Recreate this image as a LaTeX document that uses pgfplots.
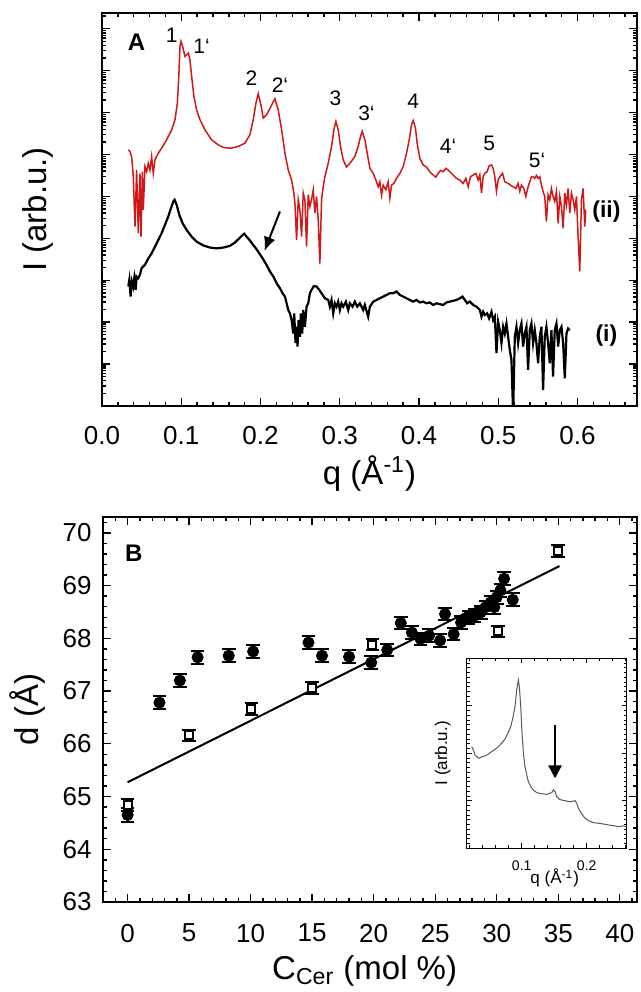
\documentclass[border=0pt]{standalone}
\usepackage{fontspec}
\setmainfont{Liberation Sans}
\usepackage{pgfplots}
\pgfplotsset{compat=1.18}
\usetikzlibrary{arrows.meta}
\definecolor{spred}{RGB}{208,24,24}

% minor ticks of a log axis, drawn on a linear axis in decades
\xdef\logminors{0}
\foreach \n in {0,...,9}{%
  \foreach \m in {0.30103,0.47712,0.60206,0.69897,0.77815,0.84510,0.90309,0.95424}{%
    \pgfmathsetmacro\v{\n+\m}%
    \xdef\logminors{\logminors,\v}}}

\pgfplotsset{
  panel/.style={
    scale only axis, anchor=south west,
    axis line style={line width=0.9pt},
    every tick/.style={black, line width=0.7pt},
    major tick length=4pt, minor tick length=2.2pt,
    /pgf/number format/assume math mode=true,
    tick label style={font=\fontsize{13}{15}\selectfont},
    label style={font=\fontsize{16.5}{19}\selectfont},
  },
}

\begin{document}
\begin{tikzpicture}
\useasboundingbox (0,0) rectangle (320.5pt,496pt);

% ---------------- panel A ----------------
\begin{axis}[panel,
  at={(51pt,293pt)}, width=267.5pt, height=196.5pt,
  xmin=0, xmax=0.675, ymin=0, ymax=9.376,
  xtick={0,0.1,0.2,0.3,0.4,0.5,0.6},
  minor xtick={0.02,0.04,...,0.66},
  ytick={0,...,9}, yticklabels={},
  minor ytick/.expanded={\logminors},
  x tick label style={/pgf/number format/fixed, /pgf/number format/fixed zerofill,
    /pgf/number format/precision=1, yshift=-6.5pt},
  xlabel={q (Å\textsuperscript{-1})},
  ylabel={I (arb.u.)},
  xlabel style={at={(axis description cs:0.5,0)}, anchor=base, yshift=-39.5pt},
  ylabel style={at={(axis description cs:-0.119,0.5)}, anchor=center},
]
% (ii) red
\addplot[spred, line width=0.75pt] table[x=q, y=L] {
q L
0.0332 6.11
0.0353 6.07
0.0374 5.95
0.0395 5.47
0.0416 4.28
0.0437 5.63
0.0458 4.12
0.0479 5.55
0.0492 4.04
0.0509 5.59
0.0521 4.68
0.0542 5.71
0.0563 5.59
0.0584 5.79
0.0605 5.63
0.0626 5.95
0.0647 5.55
0.0668 5.87
0.0710 6.03
0.0752 6.15
0.0815 6.35
0.0879 6.59
0.0921 6.83
0.0950 7.22
0.0967 7.78
0.0984 8.58
0.0996 8.70
0.1017 8.58
0.1047 8.34
0.1068 8.38
0.1089 8.42
0.1110 8.26
0.1131 7.86
0.1160 7.38
0.1194 7.06
0.1236 6.83
0.1299 6.59
0.1383 6.35
0.1467 6.23
0.1530 6.17
0.1614 6.15
0.1677 6.17
0.1740 6.21
0.1803 6.27
0.1866 6.47
0.1908 6.83
0.1942 7.22
0.1971 7.45
0.2001 7.22
0.2034 6.87
0.2077 6.95
0.2119 7.10
0.2161 7.26
0.2182 7.33
0.2224 7.06
0.2266 6.59
0.2308 6.03
0.2350 5.63
0.2392 5.39
0.2421 5.08
0.2434 4.84
0.2455 3.96
0.2476 4.92
0.2497 4.68
0.2518 4.04
0.2539 5.08
0.2560 4.92
0.2581 3.80
0.2602 5.04
0.2623 4.76
0.2644 4.92
0.2665 5.16
0.2686 4.60
0.2707 5.00
0.2728 4.44
0.2749 3.40
0.2770 4.92
0.2791 5.23
0.2812 5.47
0.2854 5.79
0.2896 6.19
0.2926 6.59
0.2951 6.79
0.2980 6.59
0.3010 6.19
0.3043 5.87
0.3085 5.70
0.3127 5.79
0.3190 5.95
0.3232 6.19
0.3262 6.43
0.3283 6.55
0.3317 6.35
0.3346 6.03
0.3380 5.67
0.3422 5.55
0.3455 5.39
0.3485 5.23
0.3506 5.35
0.3527 5.03
0.3548 5.27
0.3581 5.16
0.3611 5.35
0.3632 4.96
0.3653 5.27
0.3682 5.31
0.3716 5.43
0.3758 5.55
0.3800 5.71
0.3842 6.03
0.3876 6.35
0.3905 6.71
0.3926 6.81
0.3955 6.63
0.3976 6.27
0.4010 5.91
0.4052 5.75
0.4094 5.70
0.4136 5.59
0.4178 5.51
0.4212 5.46
0.4241 5.55
0.4271 5.62
0.4304 5.59
0.4338 5.67
0.4367 5.63
0.4388 5.59
0.4430 5.51
0.4473 5.43
0.4515 5.39
0.4557 5.31
0.4590 5.43
0.4620 5.23
0.4649 5.47
0.4683 5.51
0.4716 5.55
0.4746 5.39
0.4767 5.51
0.4788 5.08
0.4809 5.47
0.4830 5.55
0.4859 5.59
0.4884 5.73
0.4914 5.75
0.4935 5.67
0.4956 5.47
0.4977 5.12
0.4998 5.39
0.5019 5.47
0.5053 5.55
0.5082 5.35
0.5124 5.31
0.5153 5.27
0.5187 5.23
0.5221 5.19
0.5250 5.31
0.5271 5.12
0.5292 5.27
0.5322 5.19
0.5347 5.00
0.5376 5.23
0.5397 5.35
0.5418 5.47
0.5439 5.47
0.5460 5.43
0.5481 5.50
0.5502 5.43
0.5523 5.47
0.5544 5.27
0.5565 5.12
0.5586 5.00
0.5607 4.40
0.5628 5.04
0.5649 4.92
0.5670 5.19
0.5691 5.00
0.5712 4.88
0.5734 5.12
0.5755 4.36
0.5776 5.00
0.5797 4.76
0.5818 4.24
0.5839 5.08
0.5860 4.80
0.5881 5.19
0.5902 4.60
0.5923 5.08
0.5944 4.92
0.5965 4.68
0.5986 5.00
0.6007 4.04
0.6028 3.21
0.6049 4.92
0.6070 5.19
0.6091 4.28
0.6103 4.68
};
% (i) black
\addplot[black, line width=1.1pt] table[x=q, y=L] {
q L
0.0332 2.85
0.0345 3.01
0.0361 2.61
0.0378 2.97
0.0395 2.85
0.0408 3.05
0.0425 2.77
0.0437 3.09
0.0458 3.05
0.0479 3.13
0.0500 3.29
0.0542 3.37
0.0584 3.52
0.0626 3.64
0.0668 3.80
0.0710 3.96
0.0752 4.12
0.0794 4.32
0.0836 4.52
0.0870 4.72
0.0900 4.88
0.0916 4.92
0.0942 4.80
0.0975 4.56
0.1017 4.36
0.1068 4.20
0.1131 4.04
0.1194 3.92
0.1278 3.83
0.1362 3.78
0.1446 3.76
0.1530 3.78
0.1614 3.82
0.1677 3.90
0.1732 4.00
0.1774 4.08
0.1795 4.11
0.1824 4.04
0.1866 3.95
0.1908 3.84
0.1950 3.74
0.1992 3.62
0.2034 3.50
0.2077 3.36
0.2119 3.21
0.2161 3.09
0.2203 2.93
0.2245 2.81
0.2278 2.69
0.2308 2.61
0.2329 2.45
0.2350 2.29
0.2371 2.21
0.2392 2.05
0.2413 1.73
0.2425 2.21
0.2442 1.50
0.2455 1.89
0.2467 1.42
0.2480 2.05
0.2497 1.65
0.2509 2.21
0.2526 1.73
0.2539 2.29
0.2560 1.89
0.2581 2.37
0.2602 2.45
0.2623 2.69
0.2644 2.77
0.2673 2.86
0.2707 2.85
0.2741 2.77
0.2770 2.69
0.2812 2.57
0.2854 2.53
0.2875 2.37
0.2896 2.53
0.2917 2.21
0.2938 2.45
0.2959 2.37
0.2980 2.49
0.3001 2.29
0.3022 2.45
0.3043 2.37
0.3077 2.49
0.3106 2.29
0.3127 2.45
0.3161 2.37
0.3190 2.49
0.3220 2.37
0.3253 2.45
0.3295 2.29
0.3316 2.41
0.3358 2.13
0.3380 2.37
0.3422 2.49
0.3464 2.53
0.3506 2.57
0.3548 2.61
0.3590 2.65
0.3632 2.69
0.3674 2.69
0.3716 2.73
0.3758 2.65
0.3800 2.61
0.3842 2.57
0.3884 2.53
0.3926 2.49
0.3968 2.53
0.4010 2.47
0.4052 2.49
0.4094 2.45
0.4136 2.47
0.4178 2.41
0.4220 2.45
0.4262 2.43
0.4304 2.41
0.4346 2.47
0.4388 2.49
0.4430 2.51
0.4473 2.53
0.4515 2.57
0.4548 2.61
0.4578 2.53
0.4607 2.45
0.4641 2.49
0.4683 2.41
0.4725 2.37
0.4767 2.29
0.4788 2.13
0.4809 2.25
0.4830 2.17
0.4859 2.21
0.4884 2.09
0.4914 2.25
0.4935 2.05
0.4956 2.13
0.4977 1.26
0.4998 2.01
0.5019 1.81
0.5040 1.50
0.5061 1.89
0.5082 1.73
0.5103 1.97
0.5124 1.65
0.5145 1.34
0.5166 1.10
0.5187 -0.20
0.5208 1.65
0.5229 1.89
0.5250 1.50
0.5271 1.81
0.5292 1.97
0.5313 1.42
0.5334 1.73
0.5355 1.89
0.5376 0.86
0.5397 1.81
0.5418 1.97
0.5439 1.50
0.5460 1.81
0.5481 1.50
0.5502 1.02
0.5523 1.65
0.5544 1.89
0.5565 0.38
0.5586 1.65
0.5607 1.89
0.5628 1.50
0.5649 1.02
0.5670 1.81
0.5691 0.70
0.5712 1.81
0.5734 1.97
0.5755 1.42
0.5776 1.81
0.5797 1.89
0.5818 1.50
0.5839 0.66
0.5860 1.73
0.5881 1.85
0.5902 1.81
};
\node[font=\fontsize{12}{14}\selectfont\bfseries] at (0.0437,8.67) {A};
\begin{scope}[every node/.style={font=\fontsize{10.5}{12}\selectfont}]
\node at (0.0879,8.85) {1};
\node at (0.1257,8.58) {1`};
\node at (0.1887,7.82) {2};
\node at (0.2245,7.66) {2`};
\node at (0.2946,7.34) {3};
\node at (0.3337,6.98) {3`};
\node at (0.3926,7.26) {4};
\node at (0.4367,6.19) {4`};
\node at (0.4884,6.27) {5};
\node at (0.5489,5.86) {5`};
\end{scope}
\node[font=\fontsize{11.5}{13}\selectfont\bfseries] at (0.6364,4.64) {(ii)};
\node[font=\fontsize{11.5}{13}\selectfont\bfseries] at (0.6364,1.69) {(i)};
\draw[line width=1pt, -{Latex[length=7pt,width=6pt]}] (0.2245,4.64) -- (0.2050,3.70);
\end{axis}

% ---------------- panel B ----------------
\begin{axis}[panel,
  at={(51.5pt,45pt)}, width=267pt, height=192.5pt,
  xmin=-2, xmax=41.4, ymin=63, ymax=70.3,
  xtick={0,5,...,40}, minor xtick={-1,0,...,41},
  ytick={63,...,70}, minor ytick={63,63.2,...,70.2},
  x tick label style={yshift=-7.5pt},
  y tick label style={xshift=-2.2pt},
  xlabel={C\textsubscript{Cer} (mol \%)},
  ylabel={d (Å)},
  xlabel style={at={(axis description cs:0.49,0)}, anchor=base, yshift=-38.5pt},
  ylabel style={at={(axis description cs:-0.142,0.5)}, anchor=center},
]
\addplot[black, line width=1pt] coordinates {(0,65.27) (35.1,69.37)};
% open squares
\addplot[only marks, mark=square*, mark size=2pt,
  mark options={fill=white, draw=black, line width=1pt},
  error bars/.cd, y dir=both, y explicit,
  error bar style={line width=1pt, black},
  error mark options={rotate=90, mark size=3.4pt, line width=1pt, black}]
  table[x=x, y=y, y error=e] {
x y e
0 64.84 0.11
4.97 66.16 0.11
10.06 66.66 0.11
14.97 67.06 0.11
19.9 67.88 0.11
30.1 68.13 0.11
35.0 69.66 0.11
};
% filled circles
\addplot[only marks, mark=*, mark size=2.8pt,
  mark options={fill=black, draw=black},
  error bars/.cd, y dir=both, y explicit,
  error bar style={line width=1pt, black},
  error mark options={rotate=90, mark size=3.4pt, line width=1pt, black}]
  table[x=x, y=y, y error=e] {
x y e
0 64.65 0.14
2.59 66.78 0.12
4.25 67.20 0.12
5.69 67.64 0.12
8.22 67.67 0.12
10.2 67.75 0.12
14.7 67.92 0.12
15.8 67.67 0.12
18.0 67.65 0.12
19.8 67.54 0.12
21.1 67.78 0.12
22.2 68.29 0.12
23.1 68.11 0.12
23.8 67.99 0.12
24.5 68.05 0.12
25.4 67.96 0.12
25.8 68.46 0.12
26.5 68.08 0.12
27.1 68.30 0.12
27.7 68.40 0.12
28.2 68.43 0.12
28.7 68.49 0.12
29.1 68.59 0.12
29.5 68.68 0.12
29.8 68.59 0.12
30.0 68.78 0.12
30.3 68.91 0.12
30.6 69.13 0.12
31.3 68.73 0.12
};
\node[font=\fontsize{12}{14}\selectfont\bfseries] at (0.5,69.62) {B};
\end{axis}

% ---------------- inset ----------------
\begin{axis}[
  scale only axis, anchor=south west,
  at={(233.35pt,71.85pt)}, width=80pt, height=95pt,
  axis background/.style={fill=white},
  axis line style={line width=0.75pt},
  every tick/.style={black, line width=0.5pt},
  major tick length=2.6pt, minor tick length=1.6pt,
  /pgf/number format/assume math mode=true,
  xmin=0.0154, xmax=0.2615, ymin=0, ymax=1,
  xtick={0.1,0.2}, minor xtick={0.02,0.04,...,0.26},
  ytick={0,0.25,...,1}, yticklabels={}, minor ytick={0,0.025,...,1},
  tick label style={font=\fontsize{7}{8}\selectfont},
  x tick label style={yshift=-2.7pt},
  label style={font=\fontsize{8.5}{10}\selectfont},
  xlabel={q (Å\textsuperscript{-1})},
  ylabel={I (arb.u.)},
  xlabel style={at={(axis description cs:0.55,0)}, anchor=center, yshift=-15pt},
  ylabel style={at={(axis description cs:-0.15,0.5)}, anchor=center},
]
\addplot[black!65, line width=0.5pt] table[x=q, y=I] {
q I
0.0231 0.535
0.0256 0.518
0.0282 0.491
0.0318 0.479
0.0349 0.474
0.0385 0.482
0.0436 0.486
0.0487 0.496
0.0538 0.509
0.0590 0.521
0.0641 0.535
0.0692 0.553
0.0744 0.575
0.0795 0.611
0.0831 0.640
0.0862 0.684
0.0897 0.746
0.0923 0.833
0.0949 0.886
0.0964 0.851
0.0985 0.746
0.1005 0.605
0.1026 0.500
0.1051 0.430
0.1077 0.386
0.1103 0.351
0.1138 0.325
0.1179 0.307
0.1231 0.293
0.1282 0.289
0.1333 0.286
0.1385 0.284
0.1426 0.289
0.1462 0.293
0.1487 0.307
0.1513 0.298
0.1538 0.272
0.1579 0.258
0.1615 0.254
0.1667 0.251
0.1718 0.246
0.1769 0.246
0.1821 0.251
0.1846 0.237
0.1872 0.211
0.1923 0.181
0.1974 0.158
0.2026 0.146
0.2103 0.135
0.2179 0.132
0.2256 0.128
0.2333 0.123
0.2410 0.119
0.2487 0.114
0.2564 0.118
0.2615 0.114
};
\draw[line width=1.2pt, -{Triangle[length=6.5pt,width=6.5pt]}] (0.1513,0.649) -- (0.1513,0.368);
\end{axis}
\end{tikzpicture}
\end{document}
